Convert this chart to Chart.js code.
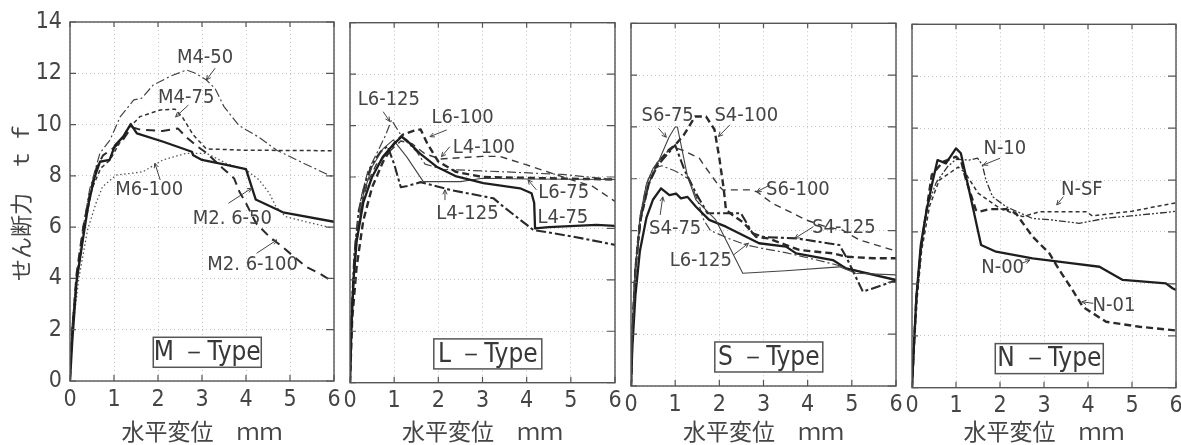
<!DOCTYPE html>
<html><head><meta charset="utf-8">
<script src="https://cdn.jsdelivr.net/npm/chart.js@4.4.1/dist/chart.umd.min.js"></script>
<style>
html,body{margin:0;padding:0;background:#fff;overflow:hidden;width:1181px;height:445px;position:relative;}
canvas{position:absolute;top:0;}
</style></head><body>
<canvas id="c0" width="350" height="445" style="left:0px"></canvas>
<canvas id="c1" width="300" height="445" style="left:330px"></canvas>
<canvas id="c2" width="300" height="445" style="left:611px"></canvas>
<canvas id="c3" width="300" height="445" style="left:892px"></canvas>
<script>
// ---------- tick labels / texts ----------
const xTickValues = [0, 1, 2, 3, 4, 5, 6];
const yTickValues = [0, 2, 4, 6, 8, 10, 12, 14];
const xTitle = '水平変位　ｍｍ';
const yTitle = 'せん断力　ｔ ｆ';
const panelTypes = ['M －Type', 'L －Type', 'S －Type', 'N －Type'];

// ---------- M-Type series [disp mm, shear tf] ----------
const M2_6_50 = [[0,0],[0.05,1.5],[0.15,3.9],[0.3,5.6],[0.42,6.9],[0.55,7.9],[0.68,8.55],[0.9,8.62],[1.02,9.18],[1.21,9.53],[1.38,10.02],[1.52,9.66],[2.12,9.33],[2.77,8.94],[2.8,8.8],[3.0,8.62],[3.5,8.45],[4.0,8.26],[4.22,7.08],[4.84,6.58],[6.0,6.21]];
const M2_6_100 = [[0,0],[0.05,2],[0.15,4.2],[0.3,6],[0.45,7.3],[0.6,8.3],[0.75,8.8],[1.0,9.1],[1.2,9.4],[1.4,9.9],[1.6,9.8],[2.1,9.75],[2.45,9.85],[2.65,9.5],[2.9,9.14],[3.1,8.9],[3.47,8.3],[3.73,7.9],[3.85,7.38],[4.0,6.93],[4.23,6.15],[4.53,5.63],[4.82,5.24],[5.36,4.46],[5.67,4.2],[5.97,3.87]];
const M4_75 = [[0,0],[0.05,2],[0.16,4],[0.33,6],[0.5,7.5],[0.7,8.3],[0.9,8.6],[1.1,9.2],[1.3,9.8],[1.59,10.31],[2.05,10.57],[2.39,10.6],[2.55,10.3],[2.8,9.6],[3.1,9.05],[4.0,9.0],[6.0,8.98]];
const M4_50 = [[0,0],[0.04,2],[0.14,4],[0.3,6],[0.45,7.5],[0.6,8.4],[0.68,8.88],[0.91,9.4],[1.14,10.3],[1.45,10.96],[1.63,11.03],[1.89,11.54],[2.3,11.9],[2.65,12.13],[2.85,12.0],[3.1,11.74],[3.3,11.4],[3.5,10.7],[3.83,9.98],[4.0,9.8],[4.3,9.5],[4.7,9.0],[5.3,8.5],[5.98,7.95]];
const M6_100 = [[0,0],[0.06,2],[0.2,4],[0.4,5.9],[0.59,6.93],[0.74,7.58],[1.05,8.03],[1.4,8.1],[1.66,8.16],[2.11,8.62],[2.64,8.88],[3.1,8.88],[3.55,8.49],[4.0,8.23],[4.3,7.84],[4.53,7.32],[4.68,6.8],[4.9,6.41],[5.36,6.21],[5.97,5.96]];

// ---------- L-Type series ----------
const L4_75 = [[0,0],[0.03,2],[0.08,4],[0.15,5.5],[0.3,7],[0.5,8.0],[0.75,8.8],[1.0,9.3],[1.17,9.57],[1.3,9.4],[1.58,8.92],[1.96,8.4],[2.41,8.02],[3.02,7.76],[3.85,7.56],[4.11,7.37],[4.17,7.0],[4.19,6.0],[4.5,6.05],[5.58,6.14],[6.0,6.1]];
const L6_75 = [[0,0],[0.05,3],[0.15,5.5],[0.3,7.3],[0.5,8.4],[0.75,9.1],[0.98,9.44],[1.28,8.79],[1.66,7.82],[2.5,7.82],[3.0,7.95],[4.0,7.92],[6.0,7.9]];
const L6_100 = [[0,0],[0.05,2.5],[0.15,4.5],[0.3,6.3],[0.5,7.6],[0.75,8.6],[1.0,9.3],[1.2,9.65],[1.45,9.8],[1.6,9.85],[1.75,9.3],[2.0,8.6],[2.4,8.2],[3.0,8.0],[4.5,7.95],[6.0,7.9]];
const L4_100 = [[0,0],[0.04,2.5],[0.12,5],[0.25,6.8],[0.4,7.8],[0.6,8.5],[0.9,9.0],[1.15,9.4],[1.4,9.3],[1.7,8.9],[2.04,8.7],[2.5,8.75],[3.0,8.8],[3.39,8.8],[4.0,8.47],[5.0,7.9],[5.5,7.63],[6.0,7.05]];
const L6_125 = [[0,0],[0.04,3],[0.12,5.5],[0.25,7.2],[0.4,8.2],[0.6,8.9],[0.8,9.6],[0.94,10.22],[1.2,9.5],[1.5,9.0],[1.7,8.5],[2.1,8.3],[3.5,8.2],[4.8,8.1],[6.0,7.9]];
const L4_125 = [[0,0],[0.03,2.5],[0.1,5],[0.2,6.7],[0.35,7.8],[0.5,8.5],[0.7,9.0],[0.85,9.2],[1.0,8.5],[1.15,7.6],[1.3,7.65],[1.6,7.8],[2.0,7.62],[2.26,7.5],[3.25,7.17],[3.47,6.85],[4.15,5.94],[5.06,5.68],[6.0,5.36]];

// ---------- S-Type series ----------
const S6_75 = [[0,0],[0.03,2],[0.1,4.5],[0.2,6.5],[0.35,7.8],[0.5,8.4],[0.64,8.73],[0.86,9.6],[1.0,10.0],[1.05,10.0],[1.28,8.08],[1.47,7.18],[1.92,6.41],[2.15,5.64],[2.53,4.35],[3.5,4.45],[4.72,4.6],[5.09,4.35],[6.0,4.29]];
const S4_75 = [[0,0],[0.03,1.5],[0.1,3.5],[0.2,5.2],[0.35,6.5],[0.5,7.2],[0.68,7.63],[0.87,7.37],[1.02,7.43],[1.13,7.24],[1.28,7.3],[1.47,6.92],[1.77,6.41],[2.15,6.15],[2.9,5.51],[3.51,5.38],[3.74,5.12],[4.57,4.86],[4.87,4.54],[6.0,4.09]];
const S4_100 = [[0,0],[0.03,2],[0.1,4.5],[0.2,6.3],[0.4,7.8],[0.6,8.6],[0.85,9.1],[1.0,9.3],[1.2,9.7],[1.45,10.4],[1.7,10.4],[1.89,9.9],[2.0,8.8],[2.1,7.6],[2.15,6.8],[2.3,6.6],[2.55,6.3],[2.83,5.76],[3.1,5.7],[3.5,5.45],[3.81,5.25],[4.57,5.12],[4.87,4.99],[5.5,4.93],[6.0,4.93]];
const S6_100 = [[0,0],[0.04,2.5],[0.12,5],[0.25,6.8],[0.4,7.8],[0.6,8.6],[0.85,9.1],[1.0,9.2],[1.17,9.1],[1.55,8.79],[1.62,8.6],[2.0,7.7],[2.08,7.57],[2.68,7.57],[2.85,7.5],[3.2,7.05],[3.66,6.67],[3.96,6.41],[4.41,6.15],[4.79,6.02],[5.17,5.64],[5.92,5.25],[6.0,5.2]];
const S4_125 = [[0,0],[0.03,2],[0.1,4.5],[0.22,6.5],[0.4,7.8],[0.6,8.5],[0.8,8.9],[1.0,9.3],[1.21,8.34],[1.47,7.44],[1.73,6.67],[2.49,6.67],[2.75,5.9],[3.0,5.75],[3.74,5.7],[4.72,5.44],[4.87,4.99],[5.25,3.64],[5.92,4.03],[6.0,4.05]];
const S_L6_125 = [[0,0],[0.03,2],[0.1,4.5],[0.2,6.5],[0.35,7.8],[0.5,8.4],[0.7,8.5],[1.0,8.3],[1.3,8.0],[1.5,7.2],[1.65,6.4],[1.8,6.0],[2.2,5.7],[2.6,5.45],[3.0,5.3],[3.5,5.15],[4.0,4.95],[4.6,4.7],[5.0,4.5],[6.0,4.1]];

// ---------- N-Type series ----------
const N_00 = [[0,0],[0.04,1.5],[0.1,3.5],[0.2,5.5],[0.32,6.72],[0.45,7.8],[0.58,8.77],[0.77,8.64],[1.0,9.22],[1.11,9.03],[1.35,7.2],[1.57,5.5],[1.91,5.24],[2.74,4.98],[3.65,4.79],[4.26,4.66],[4.79,4.15],[5.77,4.02],[5.92,3.83],[6.0,3.76]];
const N_01 = [[0,0],[0.04,1.5],[0.1,3.5],[0.2,5.3],[0.3,6.5],[0.45,8.2],[0.7,8.7],[1.0,8.9],[1.12,8.7],[1.23,8.0],[1.45,6.85],[1.53,6.78],[1.75,6.88],[2.14,6.88],[2.36,6.72],[2.74,5.82],[3.12,5.18],[3.35,4.53],[3.65,3.76],[3.88,3.12],[4.41,2.54],[5.17,2.35],[5.92,2.22],[6.0,2.2]];
const N_10 = [[0,0],[0.04,1.5],[0.1,3.5],[0.2,5.3],[0.35,7.0],[0.55,7.9],[0.8,8.5],[1.0,8.8],[1.3,8.77],[1.49,8.84],[1.6,8.58],[1.68,8.0],[1.83,7.36],[2.14,6.97],[2.74,6.52],[3.2,6.46],[3.8,6.33],[4.41,6.53],[5.17,6.65],[5.92,6.78],[6.0,6.8]];
const N_SF = [[0,0],[0.05,1.5],[0.12,3.5],[0.22,5.3],[0.4,7.0],[0.62,8.0],[0.85,8.26],[1.05,8.5],[1.2,8.3],[1.5,7.5],[2.0,6.9],[2.52,6.59],[2.9,6.78],[3.95,6.78],[4.1,6.62],[5.0,6.8],[5.92,7.1],[6.0,7.12]];

// ---------- line styles ----------
const ST = {
  thick:   {w:2.3, c:'#1e1e1e', d:[]},
  thin:    {w:1.1, c:'#444', d:[]},
  longDash:{w:2.0, c:'#2a2a2a', d:[9,6]},
  boldDash:{w:2.4, c:'#2a2a2a', d:[7,4]},
  medDash: {w:1.4, c:'#3a3a3a', d:[7,5]},
  shortDash:{w:1.5, c:'#333', d:[4,3]},
  dotted:  {w:1.3, c:'#555', d:[1.5,2.5]},
  dashDot: {w:1.2, c:'#444', d:[9,3,2,3]},
  boldDashDot:{w:2.1, c:'#2a2a2a', d:[10,3,3,3]},
  dashDotDot:{w:1.3, c:'#333', d:[7,2,2,2,2,2]}
};

const panelSeries = [
  [['M2.6-50',M2_6_50,'thick'],['M2.6-100',M2_6_100,'longDash'],['M4-75',M4_75,'shortDash'],['M4-50',M4_50,'dashDot'],['M6-100',M6_100,'dotted']],
  [['L4-75',L4_75,'thick'],['L6-75',L6_75,'thin'],['L6-100',L6_100,'boldDash'],['L4-100',L4_100,'medDash'],['L6-125',L6_125,'dashDot'],['L4-125',L4_125,'boldDashDot']],
  [['S6-75',S6_75,'thin'],['S4-75',S4_75,'thick'],['S4-100',S4_100,'boldDash'],['S6-100',S6_100,'medDash'],['S4-125',S4_125,'boldDashDot'],['L6-125',S_L6_125,'dashDot']],
  [['N-00',N_00,'thick'],['N-01',N_01,'boldDash'],['N-10',N_10,'dashDotDot'],['N-SF',N_SF,'shortDash']]
];

// ---------- annotations (text centre and leader line in data units) ----------
const panelNotes = [
  [{t:'M4-50',x:3.07,y:12.62,l:[3.3,12.2,3.1,11.74]},
   {t:'M4-75',x:2.64,y:11.06,l:[2.69,10.76,2.4,10.3]},
   {t:'M6-100',x:1.8,y:7.45,l:[2.05,7.84,1.93,8.49]},
   {t:'M2. 6-50',x:3.69,y:6.34,l:[3.6,6.93,4.13,7.52]},
   {t:'M2. 6-100',x:4.15,y:4.52,l:[4.24,4.98,4.7,5.5]}],
  [{t:'L6-125',x:0.88,y:11.0,l:[0.75,10.54,0.9,10.16]},
   {t:'L6-100',x:2.55,y:10.3,l:[2.19,9.83,1.81,9.57]},
   {t:'L4-100',x:3.03,y:9.15,l:[2.26,9.18,2.07,8.79]},
   {t:'L6-75',x:4.84,y:7.4,l:[4.22,7.5,4.03,7.89]},
   {t:'L4-75',x:4.82,y:6.43},
   {t:'L4-125',x:2.66,y:6.56,l:[2.15,7.1,2.15,7.5]}],
  [{t:'S6-75',x:0.83,y:10.44,l:[0.62,9.95,0.8,9.6]},
   {t:'S4-100',x:2.61,y:10.44,l:[2.24,10.08,1.98,9.63]},
   {t:'S6-100',x:3.78,y:7.57,l:[3.15,7.76,2.85,7.5]},
   {t:'S4-125',x:4.82,y:6.12,l:[4.13,6.15,3.71,5.7]},
   {t:'S4-75',x:1.0,y:6.06,l:[0.66,6.6,0.72,7.3]},
   {t:'L6-125',x:1.58,y:4.84,l:[2.32,5.06,2.66,5.51]}],
  [{t:'N-10',x:2.11,y:9.19,l:[2.0,8.84,1.62,8.58]},
   {t:'N-SF',x:3.86,y:7.62,l:[3.44,7.36,3.29,7.04]},
   {t:'N-00',x:2.06,y:4.61,l:[2.49,4.79,2.68,4.92]},
   {t:'N-01',x:4.59,y:3.16,l:[4.12,3.25,3.86,3.31]}]
];

// ---------- layout of the four panels ----------
const panelLayout = [
  {id:'c0', padL:0,  padR:16, top:22,   bottom:381,   yAxisW:70},
  {id:'c1', padL:20, padR:15, top:22.7, bottom:382.7, yAxisW:0},
  {id:'c2', padL:20, padR:15, top:23.3, bottom:386,   yAxisW:0},
  {id:'c3', padL:20, padR:16, top:24.3, bottom:387.7, yAxisW:0}
];

const NARROW = "'DejaVu Sans Condensed','Liberation Sans Narrow','Liberation Sans',sans-serif";
const CJK = "'Noto Sans CJK JP','Noto Sans CJK SC',sans-serif";
const TXT = '#454545';

const framePlugin = {
  id: 'frame',
  afterDatasetsDraw(chart, args, opts) {
    const {ctx, chartArea:{left,right,top,bottom}, scales:{x,y}} = chart;
    ctx.save();
    // annotations
    ctx.font = "20px " + NARROW;
    ctx.strokeStyle = TXT;
    ctx.fillStyle = TXT;
    ctx.lineWidth = 1;
    ctx.textAlign = 'center';
    ctx.textBaseline = 'middle';
    (opts.notes || []).forEach(n => {
      const px = x.getPixelForValue(n.x), py = y.getPixelForValue(n.y);
      ctx.fillText(n.t, px, py);
      if (n.l) {
        const x1 = x.getPixelForValue(n.l[0]), y1 = y.getPixelForValue(n.l[1]);
        const x2 = x.getPixelForValue(n.l[2]), y2 = y.getPixelForValue(n.l[3]);
        ctx.beginPath(); ctx.moveTo(x1,y1); ctx.lineTo(x2,y2); ctx.stroke();
        const a = Math.atan2(y1-y2, x1-x2), h = 5;
        ctx.beginPath();
        ctx.moveTo(x2 + h*Math.cos(a+0.45), y2 + h*Math.sin(a+0.45));
        ctx.lineTo(x2, y2);
        ctx.lineTo(x2 + h*Math.cos(a-0.45), y2 + h*Math.sin(a-0.45));
        ctx.stroke();
      }
    });
    // type box
    const bx = x.getPixelForValue(3.12), by = y.getPixelForValue(1.12);
    ctx.fillStyle = '#fff';
    ctx.fillRect(bx-54, by-15, 108, 30);
    ctx.strokeStyle = '#555';
    ctx.lineWidth = 1.5;
    ctx.strokeRect(bx-54, by-15, 108, 30);
    ctx.fillStyle = '#383838';
    ctx.font = "26px " + NARROW;
    ctx.fillText(opts.typeLabel, bx, by+1);
    // frame
    ctx.strokeStyle = '#555';
    ctx.lineWidth = 1.4;
    ctx.strokeRect(left, top, right-left, bottom-top);
    // inward ticks
    ctx.lineWidth = 1.2;
    ctx.beginPath();
    x.ticks.forEach(t => {
      const p = x.getPixelForValue(t.value);
      ctx.moveTo(p, bottom); ctx.lineTo(p, bottom-6);
      ctx.moveTo(p, top); ctx.lineTo(p, top+5);
    });
    y.ticks.forEach(t => {
      const p = y.getPixelForValue(t.value);
      ctx.moveTo(left, p); ctx.lineTo(left+6, p);
      ctx.moveTo(right, p); ctx.lineTo(right-8, p);
    });
    ctx.stroke();
    ctx.restore();
  }
};

panelLayout.forEach((pl, i) => {
  const datasets = panelSeries[i].map(([label, pts, st]) => ({
    label,
    data: pts.map(([px, py]) => ({x: px, y: py})),
    borderColor: ST[st].c,
    borderWidth: ST[st].w,
    borderDash: ST[st].d,
    pointRadius: 0,
    fill: false,
    tension: 0,
    borderCapStyle: 'butt',
    borderJoinStyle: 'round'
  }));
  new Chart(document.getElementById(pl.id), {
    type: 'line',
    data: {datasets},
    plugins: [framePlugin],
    options: {
      responsive: false,
      animation: false,
      devicePixelRatio: 1,
      layout: {padding: {left: pl.padL, right: pl.padR, top: pl.top, bottom: 0}},
      plugins: {
        legend: {display: false},
        tooltip: {enabled: false},
        frame: {notes: panelNotes[i], typeLabel: panelTypes[i]}
      },
      scales: {
        x: {
          type: 'linear', min: 0, max: 6,
          afterBuildTicks: s => { s.ticks = xTickValues.map(v => ({value: v})); },
          afterFit: s => { s.height = 445 - pl.bottom; },
          ticks: {font: {family: NARROW, size: 23}, color: TXT, padding: 5, maxRotation: 0, autoSkip: false},
          grid: {drawTicks: false, color: '#c4c4c4', lineWidth: 1},
          border: {display: false, dash: [1, 3]},
          title: {display: true, text: xTitle, font: {family: CJK, size: 23}, color: TXT, padding: {top: 0, bottom: 0}}
        },
        y: {
          type: 'linear', min: 0, max: 14,
          afterBuildTicks: s => { s.ticks = yTickValues.map(v => ({value: v})); },
          afterFit: s => { s.width = pl.yAxisW; },
          ticks: {display: i === 0, font: {family: NARROW, size: 23}, color: TXT, padding: 8},
          grid: {drawTicks: false, color: '#c4c4c4', lineWidth: 1},
          border: {display: false, dash: [1, 3]},
          title: {display: i === 0, text: yTitle, font: {family: CJK, size: 22}, color: TXT, padding: {top: 7, bottom: 0}}
        }
      }
    }
  });
});
</script>
</body></html>
